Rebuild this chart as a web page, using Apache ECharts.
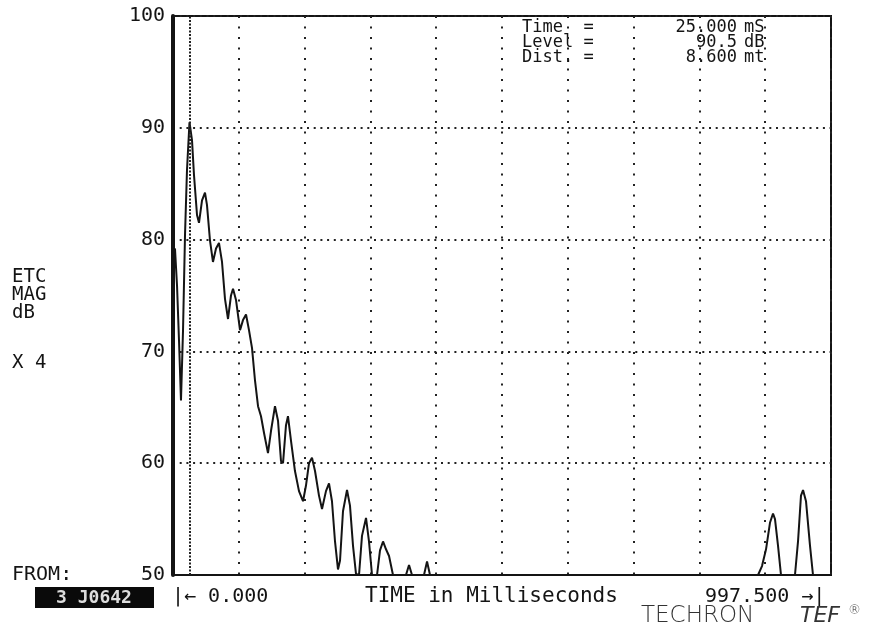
<!DOCTYPE html>
<html>
<head>
<meta charset="utf-8">
<script src="https://cdn.jsdelivr.net/npm/echarts@6/dist/echarts.min.js"></script>
<style>
html,body{margin:0;padding:0;background:#fff;}
#c{width:874px;height:624px;}
</style>
</head>
<body>
<div id="c"></div>
<script>
// Time axis in milliseconds, level in dB
var timeMs = [0, 3.0, 6.1, 9.1, 12.1, 15.2, 18.2, 21.2, 25.0, 28.8, 31.8, 36.4, 39.4, 44.0, 48.5, 51.5, 56.1, 60.6, 65.2, 69.7,
  74.3, 78.8, 83.4, 87.9, 91.0, 95.5, 101.6, 106.1, 110.7, 115.2, 119.8, 124.3, 128.9, 133.4, 138.0, 144.0, 148.6, 154.6, 159.2, 163.7,
  166.8, 171.3, 174.3, 178.9, 184.9, 191.0, 197.1, 201.6, 206.2, 210.7, 215.3, 221.3, 225.9, 231.9, 236.5, 241.0, 245.6, 250.1, 253.2, 257.7,
  263.8, 268.3, 272.9, 277.4, 282.0, 286.5, 292.6, 297.1, 301.7, 309.3, 313.8, 318.4, 322.9, 327.5, 333.5, 353.2, 357.8, 362.3, 380.5, 385.1,
  389.6, 886.9, 892.9, 899.0, 905.1, 909.6, 912.6, 917.2, 921.7, 942.9, 947.5, 952.0, 955.1, 959.6, 965.7, 970.2, 997.5];
var levelDb = [78.9, 79.2, 75.9, 71.0, 65.6, 71.9, 80.4, 86.2, 90.5, 88.9, 85.8, 82.2, 81.5, 83.5, 84.2, 83.1, 79.9, 78.0, 79.2, 79.7,
  78.0, 74.7, 72.9, 75.0, 75.6, 74.6, 71.9, 72.8, 73.3, 71.9, 70.3, 67.4, 65.1, 64.2, 62.7, 60.9, 62.9, 65.1, 63.8, 60.2,
  60.0, 63.4, 64.2, 62.0, 59.3, 57.5, 56.6, 58.0, 60.0, 60.5, 59.3, 57.1, 55.9, 57.5, 58.2, 56.6, 53.0, 50.5, 51.3, 55.7,
  57.6, 56.2, 52.6, 50.1, 50.0, 53.5, 55.1, 53.0, 50.0, 50.0, 52.2, 53.0, 52.3, 51.7, 50.0, 50.0, 50.9, 50.0, 50.0, 51.2,
  50.0, 50.0, 50.8, 52.3, 54.7, 55.5, 55.0, 52.6, 50.0, 50.0, 53.0, 57.1, 57.6, 56.6, 52.6, 50.0, 50.0];

var xMin = 0, xMax = 997.5, xStep = 99.75;
var yMin = 50, yMax = 100, yStep = 10;
var cursorMs = 25.0;

var readoutLabels = ['Time  =', 'Level =', 'Dist. ='];
var readoutValues = ['25.000', '90.5', '8.600'];
var readoutUnits = ['mS', 'dB', 'mt'];
var sideLabel = 'ETC\nMAG\ndB';
var scaleLabel = 'X 4';

var seriesData = timeMs.map(function (t, i) { return [t, levelDb[i]]; });

var MONO = "'DejaVu Sans Mono', 'Liberation Mono', monospace";
var INK = '#141414';

var chart = echarts.init(document.getElementById('c'), null, {renderer: 'canvas'});

var graphics = [];
readoutLabels.forEach(function (s, i) {
  var y = 28 + i * 15;
  graphics.push({type: 'text', style: {x: 522, y: y, text: s, font: '17px ' + MONO, fill: INK, textVerticalAlign: 'middle'}});
  graphics.push({type: 'text', style: {x: 737, y: y, text: readoutValues[i], font: '17px ' + MONO, fill: INK, textAlign: 'right', textVerticalAlign: 'middle'}});
  graphics.push({type: 'text', style: {x: 744, y: y, text: readoutUnits[i], font: '17px ' + MONO, fill: INK, textAlign: 'left', textVerticalAlign: 'middle'}});
});
graphics.push({type: 'text', style: {x: 12, y: 268, text: sideLabel, font: '19px ' + MONO, fill: INK, lineHeight: 18, textVerticalAlign: 'top'}});
graphics.push({type: 'text', style: {x: 12, y: 363, text: scaleLabel, font: '19px ' + MONO, fill: INK, textVerticalAlign: 'middle'}});
graphics.push({type: 'text', style: {x: 12, y: 575, text: 'FROM:', font: '20px ' + MONO, fill: INK, textVerticalAlign: 'middle'}});
graphics.push({type: 'rect', shape: {x: 35, y: 587, width: 119, height: 21}, style: {fill: '#0a0a0a'}});
graphics.push({type: 'text', style: {x: 94, y: 598, text: '3 J0642', font: 'bold 18px ' + MONO, fill: '#ddd', textAlign: 'center', textVerticalAlign: 'middle'}});
graphics.push({type: 'text', style: {x: 172, y: 597, text: '|← 0.000', font: '20px ' + MONO, fill: INK, textVerticalAlign: 'middle'}});
graphics.push({type: 'text', style: {x: 365, y: 597, text: 'TIME in Milliseconds', font: '21px ' + MONO, fill: INK, textVerticalAlign: 'middle'}});
graphics.push({type: 'text', style: {x: 705, y: 597, text: '997.500 →|', font: '20px ' + MONO, fill: INK, textVerticalAlign: 'middle'}});
graphics.push({type: 'text', style: {x: 641, y: 616, text: 'TECHRON', font: '200 23px "DejaVu Sans", sans-serif', fill: '#333', textVerticalAlign: 'middle'}});
graphics.push({type: 'text', style: {x: 800, y: 616, text: 'TEF', font: 'italic 200 22px "DejaVu Sans", sans-serif', fill: '#333', textVerticalAlign: 'middle'}});
graphics.push({type: 'text', style: {x: 848, y: 611, text: '®', font: '200 13px "DejaVu Sans", sans-serif', fill: '#333', textVerticalAlign: 'middle'}});

chart.setOption({
  animation: false,
  backgroundColor: '#ffffff',
  grid: {left: 173, right: 43, top: 16, bottom: 49, show: true, borderColor: INK, borderWidth: 2, backgroundColor: 'transparent'},
  xAxis: {
    type: 'value', min: xMin, max: xMax, interval: xStep,
    axisLine: {show: true, lineStyle: {color: INK, width: 2}},
    axisTick: {show: false}, axisLabel: {show: false},
    splitLine: {show: true, lineStyle: {color: '#222', width: 2, type: [2, 8.5]}}
  },
  yAxis: {
    type: 'value', min: yMin, max: yMax, interval: yStep,
    axisLine: {show: true, lineStyle: {color: INK, width: 4}},
    axisTick: {show: false},
    axisLabel: {show: true, color: INK, fontFamily: MONO, fontSize: 20, margin: 8, verticalAlign: 'middle', lineHeight: 20, padding: [0, 0, 6, 0]},
    splitLine: {show: true, lineStyle: {color: '#222', width: 2, type: [2, 4.7]}}
  },
  graphic: graphics,
  series: [{
    type: 'line',
    data: seriesData,
    showSymbol: false,
    clip: true,
    lineStyle: {color: INK, width: 2},
    markLine: {
      silent: true, symbol: 'none', label: {show: false},
      lineStyle: {color: '#222', width: 2, type: [2, 1.5]},
      data: [{xAxis: cursorMs}]
    }
  }]
});
</script>
</body>
</html>
